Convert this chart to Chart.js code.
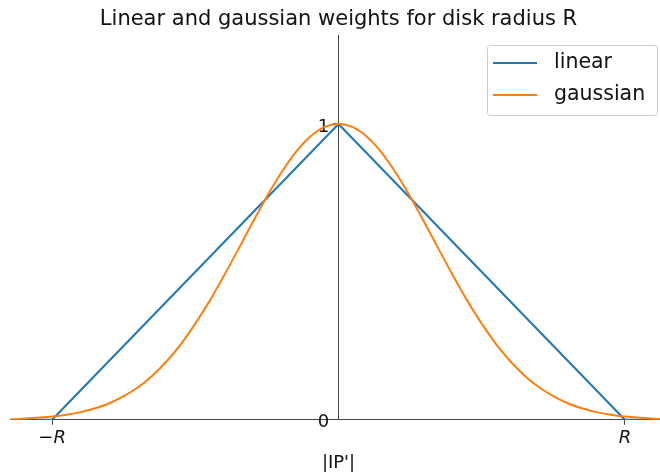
<!DOCTYPE html>
<html>
<head>
<meta charset="utf-8">
<script src="https://cdn.jsdelivr.net/npm/chart.js@4"></script>
<style>
  html, body { margin: 0; padding: 0; overflow: hidden; background: #fff; }
  canvas { display: block; }
</style>
</head>
<body>
<canvas id="myChart" width="668" height="475"></canvas>
<script>
// data (x in units of R)
const linearX = [-1.15, -1.0, 0, 1.0, 1.15];
const linearY = [0, 0, 1, 0, 0];

const gaussX = [-1.15, -1.0, -0.95, -0.9, -0.85, -0.8, -0.75, -0.7, -0.65, -0.6, -0.55,
                -0.5, -0.45, -0.4, -0.35, -0.3, -0.25, -0.2, -0.15, -0.1, -0.05, 0,
                0.05, 0.1, 0.15, 0.2, 0.25, 0.3, 0.35, 0.4, 0.45, 0.5,
                0.55, 0.6, 0.65, 0.7, 0.75, 0.8, 0.85, 0.9, 0.95, 1.0, 1.15];
const gaussY = [0, 0.011, 0.017, 0.026, 0.039, 0.056, 0.080, 0.110, 0.149, 0.198, 0.256,
                0.325, 0.402, 0.487, 0.576, 0.667, 0.755, 0.835, 0.904, 0.956, 0.989, 1.000,
                0.989, 0.956, 0.904, 0.835, 0.755, 0.667, 0.576, 0.487, 0.402, 0.325,
                0.256, 0.198, 0.149, 0.110, 0.080, 0.056, 0.039, 0.026, 0.017, 0.011, 0];

const seriesNames = ["linear", "gaussian"];
const xTickValues = [-1, 1];
const xTickLabels = ["\u2212R", "R"];
const yTickValues = [0, 1];
const yTickLabels = ["0", "1"];

const FONT = "'DejaVu Sans', sans-serif";
const AXIS = "#444";

function toPoints(xs, ys) {
  return xs.map((x, i) => ({ x: x, y: ys[i] }));
}

// matplotlib-like legend box in the upper right
const legendBox = {
  id: "legendBox",
  afterDraw(chart) {
    const ctx = chart.ctx;
    const x0 = 487, y0 = 45, w = 170, h = 70;
    ctx.save();
    ctx.fillStyle = "rgba(255,255,255,0.8)";
    ctx.strokeStyle = "#cccccc";
    ctx.lineWidth = 1;
    ctx.beginPath();
    ctx.roundRect(x0 + 0.5, y0 + 0.5, w, h, 3);
    ctx.fill();
    ctx.stroke();
    chart.data.datasets.forEach((ds, i) => {
      const y = y0 + 18 + i * 32;
      ctx.strokeStyle = ds.borderColor;
      ctx.lineWidth = 2;
      ctx.beginPath();
      ctx.moveTo(x0 + 6, y);
      ctx.lineTo(x0 + 50, y);
      ctx.stroke();
      ctx.fillStyle = "#111";
      ctx.font = "20.5px " + FONT;
      ctx.textBaseline = "middle";
      ctx.fillText(ds.label, x0 + 67, y);
    });
    ctx.restore();
  }
};

const ctx = document.getElementById("myChart").getContext("2d");
const chart = new Chart(ctx, {
  type: "line",
  data: {
    datasets: [
      {
        label: seriesNames[0],
        data: toPoints(linearX, linearY),
        borderColor: "#1f77b4",
        borderWidth: 2,
        pointRadius: 0,
        tension: 0,
        order: 1
      },
      {
        label: seriesNames[1],
        data: toPoints(gaussX, gaussY),
        borderColor: "#ff7f0e",
        borderWidth: 2,
        pointRadius: 0,
        cubicInterpolationMode: "monotone",
        order: 0
      }
    ]
  },
  options: {
    responsive: false,
    animation: false,
    layout: { padding: { left: 10, right: 1, top: 0, bottom: 1 } },
    plugins: {
      legend: { display: false },
      tooltip: { enabled: false },
      title: {
        display: true,
        text: "Linear and gaussian weights for disk radius R",
        color: "#111",
        fullSize: false,
        font: { family: FONT, size: 21, weight: "normal" },
        padding: { top: 7, bottom: 3 }
      }
    },
    scales: {
      x: {
        type: "linear",
        min: -1.147,
        max: 1.147,
        afterBuildTicks: (s) => { s.ticks = xTickValues.map(v => ({ value: v })); },
        ticks: {
          color: "#111",
          font: { family: FONT, size: 18, style: "italic" },
          padding: 3,
          maxRotation: 0,
          callback: (v) => xTickLabels[xTickValues.indexOf(v)]
        },
        grid: { display: true, drawOnChartArea: false, drawTicks: true, tickLength: 5, color: AXIS },
        border: { display: true, color: AXIS, width: 1 },
        title: {
          display: true,
          text: "|IP'|",
          color: "#111",
          font: { family: FONT, size: 18 },
          padding: { top: 0, bottom: 0 }
        }
      },
      y: {
        type: "linear",
        position: { x: 0 },
        min: 0,
        max: 1.3,
        afterBuildTicks: (s) => { s.ticks = yTickValues.map(v => ({ value: v })); },
        ticks: {
          color: "#111",
          font: { family: FONT, size: 18 },
          labelOffset: 3,
          // centred axis ignores padding, so keep a gap to the spine with spaces
          callback: (v) => yTickLabels[yTickValues.indexOf(v)] + " \u2009"
        },
        grid: { display: true, drawOnChartArea: false, drawTicks: true, tickLength: 5, color: AXIS },
        border: { display: true, color: AXIS, width: 1 }
      }
    }
  },
  plugins: [legendBox]
});
</script>
</body>
</html>
